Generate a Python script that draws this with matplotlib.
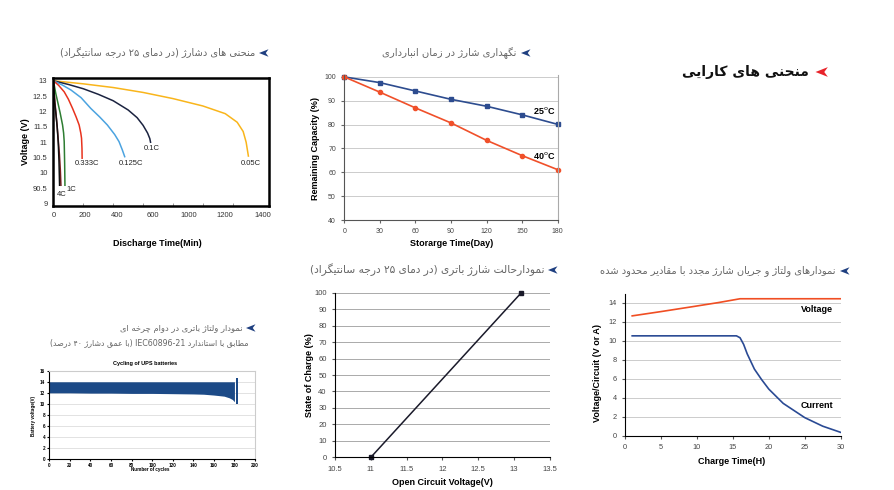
import re
import numpy as np
import matplotlib
matplotlib.use('Agg')
import matplotlib.pyplot as plt
from matplotlib.patches import Polygon

plt.rcParams['font.family'] = ['Liberation Sans', 'DejaVu Sans']

# ---- data ----
# discharge curves (time in min, voltage)
dis_labels = ['0.05C', '0.1C', '0.125C', '0.333C', '1C', '2C', '4C']
dis_t = {
    '0.05C': [0, 200, 400, 600, 800, 1000, 1150, 1230, 1270, 1290, 1305],
    '0.1C': [0, 100, 200, 300, 400, 500, 560, 600, 630, 645, 650],
    '0.125C': [0, 60, 117, 185, 250, 310, 361, 410, 439, 461, 477],
    '0.333C': [0, 35, 72, 100, 128, 152, 172, 183, 188, 191, 192],
    '1C': [0, 15, 28, 45, 61, 68, 72, 75, 77],
    '2C': [0, 10, 25, 40, 46, 50],
    '4C': [0, 8, 17, 25, 32, 37, 41],
}
dis_v = {
    '0.05C': [13, 12.9, 12.78, 12.62, 12.42, 12.18, 11.93, 11.65, 11.35, 11.0, 10.55],
    '0.1C': [13, 12.88, 12.74, 12.56, 12.35, 12.05, 11.8, 11.55, 11.3, 11.12, 11.0],
    '0.125C': [13, 12.86, 12.70, 12.45, 12.10, 11.82, 11.56, 11.25, 11.02, 10.75, 10.53],
    '0.333C': [13, 12.85, 12.64, 12.40, 12.10, 11.82, 11.56, 11.3, 11.13, 10.8, 10.48],
    '1C': [13, 12.6, 12.32, 11.95, 11.56, 11.3, 11.02, 10.3, 9.6],
    '2C': [12.9, 12.3, 11.5, 10.6, 10.1, 9.6],
    '4C': [13, 12.3, 11.9, 11.5, 11.0, 10.4, 9.6],
}
dis_colors = {'0.05C': '#F9B51B', '0.1C': '#1B2340', '0.125C': '#4BA3E0',
              '0.333C': '#E8331E', '1C': '#2E7D32', '2C': '#7B1F1F', '4C': '#111111'}
dis_xticks = [0, 210, 425, 665, 905, 1150, 1400]
dis_xticklabels = ['0', '200', '400', '600', '1000', '1200', '1400']
dis_yticks = [9, 9.5, 10, 10.5, 11, 11.5, 12, 12.5, 13]
dis_yticklabels = ['9', '90.5', '10', '10.5', '11', '11.5', '12', '12.5', '13']

# storage
st_days = [0, 30, 60, 90, 120, 150, 180]
st_25 = [100.0, 97.6, 94.1, 90.6, 87.7, 84.1, 80.1]
st_40 = [100.0, 93.6, 87.0, 80.7, 73.4, 67.0, 61.1]

# state of charge
soc_v = [11.0, 13.1]
soc_pct = [0, 100]
soc_xticks = [10.5, 11, 11.5, 12, 12.5, 13, 13.5]
soc_xticklabels = ['10.5', '11', '11.5', '12', '12.5', '13', '13.5']

# cycling envelope
cyc_n = [0, 20, 40, 60, 80, 100, 120, 140, 150, 160, 170, 175, 178, 180]
cyc_low = [12.0, 12.0, 11.95, 11.95, 11.9, 11.9, 11.85, 11.8, 11.75, 11.6, 11.4, 11.1, 10.8, 10.4]
cyc_high = [14.0] * len(cyc_n)
cyc_end_n = [181.5, 183]
cyc_end_low = [10.0, 10.0]
cyc_end_high = [14.7, 14.7]

# recharge
ch_vt = [1, 5, 9.5, 13, 16, 30]
ch_v = [12.6, 13.05, 13.58, 14.0, 14.4, 14.4]
ch_it = [1, 5, 10, 15, 15.5, 16, 16.5, 17, 18, 19, 20, 22, 25, 27.5, 30]
ch_i = [10.5, 10.5, 10.5, 10.5, 10.5, 10.3, 9.6, 8.6, 7.0, 5.9, 4.9, 3.4, 1.9, 1.0, 0.35]

# ---- persian text helper ----
FORMS = {
    'ا': (0xFE8D, 0xFE8E), 'آ': (0xFE81, 0xFE82), 'د': (0xFEA9, 0xFEAA),
    'ذ': (0xFEAB, 0xFEAC), 'ر': (0xFEAD, 0xFEAE), 'ز': (0xFEAF, 0xFEB0),
    'ژ': (0xFB8A, 0xFB8B), 'و': (0xFEED, 0xFEEE),
}
for ch, base in [('ب', 0xFE8F), ('ت', 0xFE95), ('ج', 0xFE9D), ('ح', 0xFEA1),
                 ('خ', 0xFEA5), ('س', 0xFEB1), ('ش', 0xFEB5), ('ص', 0xFEB9),
                 ('ط', 0xFEC1), ('ع', 0xFEC9), ('ق', 0xFED5), ('ل', 0xFEDD),
                 ('م', 0xFEE1), ('ن', 0xFEE5), ('ه', 0xFEE9), ('پ', 0xFB56),
                 ('چ', 0xFB7A), ('ک', 0xFB8E), ('گ', 0xFB92), ('ی', 0xFBFC)]:
    FORMS[ch] = (base, base + 1, base + 2, base + 3)


def fa(s):
    out = []
    for i, ch in enumerate(s):
        f = FORMS.get(ch)
        if f is None:
            out.append(ch)
            continue
        prev = s[i - 1] if i > 0 else ''
        nxt = s[i + 1] if i + 1 < len(s) else ''
        k = (1 if (prev in FORMS and len(FORMS[prev]) == 4) else 0)
        k += (2 if (len(f) == 4 and nxt in FORMS) else 0)
        out.append(chr(f[k]))
    tokens = re.findall(r'[A-Za-z0-9۰-۹\-]+|.', ''.join(out))
    mirror = {'(': ')', ')': '('}
    return ''.join(mirror.get(t, t) for t in reversed(tokens))


W, H = 894, 490
fig = plt.figure(figsize=(W / 100, H / 100), dpi=100)


def pax(l, t, r, b):
    return fig.add_axes([l / W, 1 - b / H, (r - l) / W, (b - t) / H])


def ftext(x, y, s, **kw):
    fig.text(x / W, 1 - y / H, s, **kw)


def arrow(x, y, color, s=5):
    pts = [(x - s, y), (x + s * 0.9, y - s * 0.75), (x + s * 0.35, y), (x + s * 0.9, y + s * 0.75)]
    fig.patches.append(Polygon([(px / W, 1 - py / H) for px, py in pts], closed=True,
                               transform=fig.transFigure, color=color, lw=0))


fa_kw = dict(family='DejaVu Sans', color='#666666', ha='right', va='center')

# ---- 1: discharge ----
ax = pax(53, 78, 269, 206)
for lab in dis_labels:
    ax.plot(dis_t[lab], dis_v[lab], color=dis_colors[lab], lw=1.1)
ax.set_xlim(-3, 1443)
ax.set_ylim(8.925, 13.09)
ax.set_xticks(dis_xticks)
ax.set_xticklabels(dis_xticklabels)
ax.set_xticks(range(0, 1401, 200), minor=True)
ax.set_yticks(dis_yticks)
ax.set_yticklabels(dis_yticklabels)
ax.tick_params(which='major', length=0, labelsize=5.5, labelcolor='#333333', pad=4)
ax.tick_params(axis='x', which='minor', length=2, direction='in', color='#888888')
for sp in ax.spines.values():
    sp.set_linewidth(1.8)
lab_pos = {'0.05C': (1320, 10.3), '0.1C': (660, 10.8), '0.125C': (520, 10.3),
           '0.333C': (225, 10.3), '1C': (120, 9.45), '4C': (55, 9.3)}
for lab, (x, y) in lab_pos.items():
    ax.text(x, y, lab, fontsize=5.5, color='#222222', ha='center', va='center')
ftext(25, 142, 'Voltage (V)', rotation=90, fontsize=6.5, fontweight='bold', ha='center', va='center')
ftext(157, 243, 'Discharge Time(Min)', fontsize=6.5, fontweight='bold', ha='center', va='center')
ftext(255, 53, fa('منحنی های دشارژ (در دمای ۲۵ درجه سانتیگراد)'), fontsize=7.1, **fa_kw)
arrow(264, 53, '#1F3F80')

# ---- 2: storage ----
ax = pax(344.3, 75, 557.7, 220)
ax.plot(st_days, st_25, color='#2D4C8F', lw=1.2, marker='s', ms=3.2, clip_on=False)
ax.plot(st_days, st_40, color='#F0502A', lw=1.2, marker='o', ms=3, clip_on=False)
ax.set_xlim(0, 180)
ax.set_ylim(40, 100.8)
ax.set_xticks(st_days)
ax.set_yticks(range(40, 101, 10))
ax.grid(axis='y', color='#cccccc', lw=0.7)
ax.set_axisbelow(True)
ax.tick_params(labelsize=5, labelcolor='#444444', length=2, color='#666666', pad=4)
ax.spines['top'].set_visible(False)
ax.spines['right'].set_color('#aaaaaa')
ax.spines['left'].set_color('#555555')
ax.spines['bottom'].set_color('#555555')
ax.text(169, 86.1, '25$^{\\mathrm{o}}$C', fontsize=6.5, fontweight='bold', ha='center', va='center')
ax.text(169, 67.0, '40$^{\\mathrm{o}}$C', fontsize=6.5, fontweight='bold', ha='center', va='center')
ftext(316, 148, 'Remaining Capacity (%)', rotation=90, fontsize=6.5, fontweight='bold', ha='center', va='center')
ftext(452, 243, 'Storarge Time(Day)', fontsize=6.5, fontweight='bold', ha='center', va='center')
ftext(516, 53, fa('نگهداری شارژ در زمان انبارداری'), fontsize=7.2, **fa_kw)
arrow(526, 53, '#1F3F80')

# main heading
ftext(809, 72, fa('منحنی های کارایی'), family='DejaVu Sans', fontweight='bold',
      fontsize=10, color='#111111', ha='right', va='center')
arrow(822, 72, '#E8232A', s=6.5)

# ---- 3: state of charge ----
ax = pax(335, 292.7, 550, 457.3)
ax.plot(soc_v, soc_pct, color='#1a1a2a', lw=1.1, marker='s', ms=3.2, clip_on=False)
ax.set_xlim(10.5, 13.5)
ax.set_ylim(0, 100)
ax.set_xticks(soc_xticks)
ax.set_xticklabels(soc_xticklabels)
ax.set_yticks(range(0, 101, 10))
ax.grid(axis='y', color='#aaaaaa', lw=0.7)
ax.set_axisbelow(True)
ax.tick_params(labelsize=5.5, labelcolor='#444444', length=2, color='#555555', pad=4)
ax.spines['top'].set_visible(False)
ax.spines['right'].set_visible(False)
ftext(310, 375, 'State of Charge (%)', rotation=90, fontsize=6.5, fontweight='bold', ha='center', va='center')
ftext(442, 482, 'Open Circuit Voltage(V)', fontsize=6.5, fontweight='bold', ha='center', va='center')
ftext(544, 270, fa('نمودارحالت شارژ باتری (در دمای ۲۵ درجه سانتیگراد)'), fontsize=7.7, **fa_kw)
arrow(553, 270, '#1F3F80')

# ---- 4: cycling ----
ax = pax(49.3, 370.7, 255, 459.3)
ax.fill_between(cyc_n, cyc_low, cyc_high, color='#1C4A87', lw=0)
ax.fill_between(cyc_end_n, cyc_end_low, cyc_end_high, color='#1C4A87', lw=0)
ax.set_xlim(0, 200)
ax.set_ylim(0, 16)
ax.set_xticks(range(0, 201, 20))
ax.set_yticks(range(0, 17, 2))
ax.grid(axis='y', color='#dddddd', lw=0.6)
ax.set_axisbelow(True)
ax.tick_params(labelsize=3.3, length=1.5, pad=1.5)
for lbl in ax.get_xticklabels() + ax.get_yticklabels():
    lbl.set_fontweight('bold')
ax.spines['top'].set_color('#cccccc')
ax.spines['right'].set_color('#cccccc')
ftext(145, 363, 'Cycling of UPS batteries', fontsize=4, fontweight='bold', ha='center', va='center')
ftext(34, 416, 'Battery voltage(V)', rotation=90, fontsize=3.3, fontweight='bold', ha='center', va='center')
ftext(150, 469.5, 'Number of cycles', fontsize=3.3, fontweight='bold', ha='center', va='center')
ftext(243, 328, fa('نمودار ولتاژ باتری در دوام چرخه ای'), fontsize=6, **fa_kw)
ftext(249, 343, fa('مطابق با استاندارد IEC60896-21 (با عمق دشارژ ۴۰ درصد)'), fontsize=5.7, **fa_kw)
arrow(251, 328, '#1F3F80')

# ---- 5: recharge ----
ax = pax(625, 294, 840.7, 435.7)
ax.plot(ch_vt, ch_v, color='#F04E23', lw=1.2)
ax.plot(ch_it, ch_i, color='#2A4A94', lw=1.2)
ax.set_xlim(0, 30)
ax.set_ylim(0, 14.9)
ax.set_xticks(range(0, 31, 5))
ax.set_yticks(range(0, 15, 2))
ax.grid(axis='y', color='#cccccc', lw=0.7)
ax.set_axisbelow(True)
ax.tick_params(labelsize=5.3, labelcolor='#444444', length=2, color='#555555', pad=4)
ax.spines['top'].set_visible(False)
ax.spines['right'].set_visible(False)
ax.text(26.7, 13.3, 'Voltage', fontsize=6.5, fontweight='bold', ha='center', va='center')
ax.text(26.7, 3.2, 'Current', fontsize=6.5, fontweight='bold', ha='center', va='center')
ftext(597, 373, 'Voltage/Circuit (V or A)', rotation=90, fontsize=6.5, fontweight='bold', ha='center', va='center')
ftext(732, 461, 'Charge Time(H)', fontsize=6.5, fontweight='bold', ha='center', va='center')
ftext(835, 271, fa('نمودارهای ولتاژ و جریان شارژ مجدد با مقادیر محدود شده'), fontsize=7.1, **fa_kw)
arrow(845, 271, '#1F3F80')

fig.savefig('out.png', dpi=100)
